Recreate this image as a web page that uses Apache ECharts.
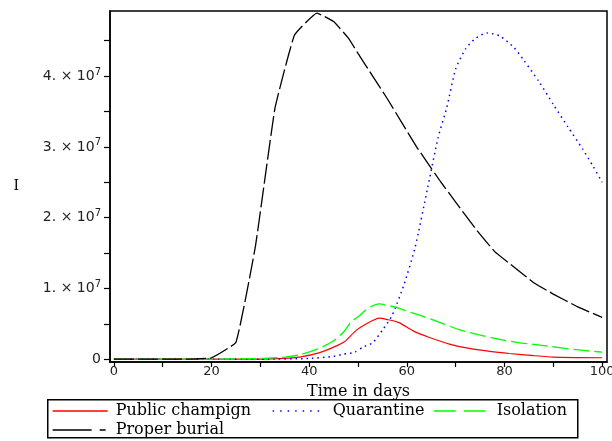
<!DOCTYPE html>
<html>
<head>
<meta charset="utf-8">
<script src="https://cdn.jsdelivr.net/npm/echarts@6/dist/echarts.min.js"></script>
<style>html,body{margin:0;padding:0;background:#fff}#c{width:612px;height:441px}</style>
</head>
<body>
<div id="c"></div>
<script>
// Series names
var seriesNames = ['Public champign', 'Quarantine', 'Isolation', 'Proper burial'];
// [day, I in units of 1e7]
var publicChampign = [[0,0],[10,0],[20,0],[30,0],[35,0.01],[38,0.03],[42,0.09],[45,0.17],[47.3,0.25],[49.5,0.4],[52,0.51],[54.3,0.58],[56,0.56],[58.3,0.52],[61.3,0.4],[64.5,0.31],[68.9,0.21],[72.5,0.155],[77,0.11],[81,0.08],[86,0.05],[90,0.03],[100,0.02]];
var quarantine = [[0,0],[10,0],[20,0],[30,0],[40,0.01],[45,0.04],[47,0.07],[49.4,0.1],[51,0.17],[53,0.23],[55,0.41],[57,0.62],[59.4,1.05],[61.7,1.58],[64.2,2.4],[66.4,3.13],[68.2,3.56],[70,4.1],[72,4.38],[74,4.53],[76.4,4.61],[79,4.57],[82,4.40],[84,4.22],[87,3.93],[90,3.6],[93,3.28],[96,2.97],[98.2,2.72],[100,2.5]];
var isolation = [[0,0],[10,0],[20,0],[30,0.01],[35,0.03],[38,0.06],[42,0.15],[45,0.26],[47,0.38],[48.5,0.52],[50.4,0.62],[52,0.72],[54.3,0.78],[56,0.76],[58,0.73],[61.3,0.65],[64.8,0.57],[67.5,0.5],[71,0.41],[74.4,0.35],[79,0.28],[83.2,0.23],[86,0.21],[89.3,0.18],[94,0.14],[98.2,0.11],[100,0.1]];
var properBurial = [[0,0],[5,0],[10,0],[15,0],[20,0.02],[25,0.24],[29,1.6],[33,3.55],[37,4.58],[41.6,4.89],[45,4.77],[48,4.54],[50,4.32],[53,4.0],[56,3.68],[59,3.34],[62,3.0],[64,2.8],[67,2.5],[70,2.22],[74,1.85],[78,1.52],[82,1.3],[86,1.08],[90,0.92],[95,0.74],[100,0.59]];
var xTickValues = [0,10,20,30,40,50,60,70,80,90,100];
var xLabelValues = [0,20,40,60,80,100];
var yTickValues = [0,0.5,1,1.5,2,2.5,3,3.5,4,4.5];
var yLabelValues = [0,1,2,3,4];

var SCALE = 1e7;
function toI(arr){ return arr.map(function(p){ return [p[0], p[1]*SCALE]; }); }

var chart = echarts.init(document.getElementById('c'));
var sansFont = 'DejaVu Sans';
var serifFont = 'DejaVu Serif';

function mkLegend(name, left, top, w, dash, color){
  return {
    data: [name], left: left, top: top, orient: 'horizontal',
    itemWidth: w, itemHeight: 12, itemGap: 0, padding: 0,
    textStyle: {fontFamily: serifFont, fontSize: 16, color: '#000', padding:[0,0,0,3]},
    lineStyle: {type: dash, width: 1.3, color: color},
    itemStyle: {opacity: 0},
    selectedMode: false
  };
}

var option = {
  animation: false,
  backgroundColor: '#fff',
  grid: {left: 110, right: 5, top: 11, bottom: 79, show: true, borderColor: '#000', borderWidth: 1.5, containLabel: false, outerBoundsMode: 'none'},
  xAxis: {
    type: 'value', min: -0.8, max: 101,
    name: 'Time in days', nameLocation: 'middle', nameGap: 22,
    nameTextStyle: {fontFamily: serifFont, fontSize: 16, color: '#000'},
    axisLine: {show: true, onZero: false, lineStyle: {color: '#000', width: 1.5}},
    axisTick: {show: true, length: 5, customValues: xTickValues, lineStyle: {color: '#000', width: 1.2}},
    axisLabel: {customValues: xLabelValues, fontFamily: sansFont, fontSize: 13, color: '#222', margin: 3, hideOverlap: false},
    splitLine: {show: false}
  },
  yAxis: {
    type: 'value', min: -0.04*SCALE, max: 4.92*SCALE,
    name: 'I', nameLocation: 'middle', nameGap: 91, nameRotate: 0,
    nameTextStyle: {fontFamily: serifFont, fontSize: 14, color: '#000'},
    axisLine: {show: true, onZero: false, lineStyle: {color: '#000', width: 1.5}},
    axisTick: {show: true, length: 6, customValues: yTickValues.map(function(v){return v*SCALE;}), lineStyle: {color: '#000', width: 1.2}},
    axisLabel: {
      customValues: yLabelValues.map(function(v){return v*SCALE;}),
      fontFamily: sansFont, fontSize: 14, color: '#222', margin: 9,
      formatter: function(v){ if (v === 0) return '0'; return Math.round(v/SCALE) + '. \u00d7 10{s|7}'; },
      rich: {s: {fontSize: 10, fontFamily: sansFont, color: '#222', padding: [0,0,8,0]}}
    },
    splitLine: {show: false}
  },
  legend: [
    mkLegend(seriesNames[0], 52, 403, 55, 'solid', '#ff0000'),
    mkLegend(seriesNames[1], 272, 403, 52, [1.5,6], '#0000ff'),
    mkLegend(seriesNames[2], 433, 403, 55, [22,8], '#00ff00'),
    mkLegend(seriesNames[3], 52, 422, 55, [39,8,6,8], '#000000')
  ],
  graphic: [{
    type: 'rect', left: 47, top: 399, z: -10,
    shape: {width: 530, height: 38},
    style: {fill: '#fff', stroke: '#000', lineWidth: 1.5}
  }],
  series: [
    {name: seriesNames[0], type: 'line', data: toI(publicChampign), showSymbol: false, symbol: 'none', smooth: 0.2,
     lineStyle: {color: '#ff0000', width: 1.2, type: 'solid'}, itemStyle: {color: '#ff0000'}},
    {name: seriesNames[1], type: 'line', data: toI(quarantine), showSymbol: false, symbol: 'none', smooth: 0.2,
     lineStyle: {color: '#0000ff', width: 1.5, type: [1.5,4]}, itemStyle: {color: '#0000ff'}},
    {name: seriesNames[2], type: 'line', data: toI(isolation), showSymbol: false, symbol: 'none', smooth: 0.2,
     lineStyle: {color: '#00ff00', width: 1.3, type: [16,5]}, itemStyle: {color: '#00ff00'}},
    {name: seriesNames[3], type: 'line', data: toI(properBurial), showSymbol: false, symbol: 'none', smooth: 0.1,
     lineStyle: {color: '#000000', width: 1.3, type: [20,4]}, itemStyle: {color: '#000000'}}
  ]
};
chart.setOption(option);
</script>
</body>
</html>
